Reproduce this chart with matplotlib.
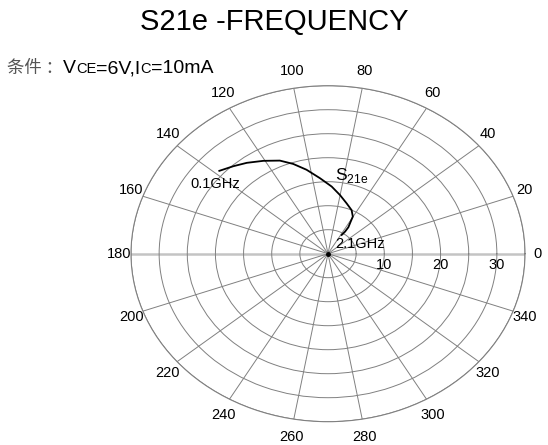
import numpy as np
import matplotlib
matplotlib.use("Agg")
import matplotlib.pyplot as plt
from matplotlib.offsetbox import TextArea, HPacker, AnnotationBbox

plt.rcParams['font.family'] = ['Liberation Sans', 'DejaVu Sans']
plt.rcParams['mathtext.fontset'] = 'custom'
plt.rcParams['mathtext.rm'] = 'Liberation Sans'

# S21e trace, 0.1 GHz -> 2.1 GHz (angle in degrees, magnitude)
s21_angle = [138.2, 132.7, 127.3, 120.7, 113.8, 108.3, 102.3, 95.2, 87.3,
             80.1, 72.5, 65.2, 60.3, 58.9, 56.7, 56.6, 58.1]
s21_mag = [25.9, 24.8, 23.8, 22.5, 21.2, 19.7, 17.9, 15.8, 14.0,
           12.4, 11.0, 10.0, 8.9, 7.8, 6.6, 5.5, 4.6]

angle_ticks = [0, 20, 40, 60, 80, 100, 120, 140, 160, 180,
               200, 220, 240, 260, 280, 300, 320, 340]
ring_ticks = [5, 10, 15, 20, 25, 30, 35]
ring_labels = [10, 20, 30]
r_max = 35

grid_col = '#808080'

fig = plt.figure(figsize=(5.48, 4.45), dpi=100)
ax = fig.add_axes([131 / 548, 23.3 / 445, 394 / 548, 336 / 445], projection='polar')
ax.set_aspect('auto')
ax.set_ylim(0, r_max)

ax.set_thetagrids(angle_ticks, labels=[''] * len(angle_ticks))
ax.set_rgrids(ring_ticks, labels=[''] * len(ring_ticks))
ax.grid(True, color=grid_col, lw=0.7)
for a, gl in zip(angle_ticks, ax.xaxis.get_gridlines()):
    if a in (0, 180):
        gl.set_color('#c4c4c4')
        gl.set_linewidth(1.8)
ax.spines['polar'].set_color(grid_col)
ax.spines['polar'].set_linewidth(0.8)
ax.tick_params(axis='x', which='major', length=0)
ax.set_xticks(np.deg2rad(np.arange(10, 360, 20)), minor=True)
ax.tick_params(axis='x', which='minor', length=3.5, direction='in',
               color=grid_col, width=0.7)

# angle labels around the outside
for a in angle_ticks:
    t = np.deg2rad(a)
    ax.annotate(str(a), xy=(t, r_max), xytext=(12 * np.cos(t), 18 * np.sin(t)),
                textcoords='offset pixels', ha='center', va='center', fontsize=10.5)

# magnitude labels under the 0-degree line
for r in ring_labels:
    ax.annotate(str(r), xy=(0, r), xytext=(0, -11), textcoords='offset pixels',
                ha='center', va='center', fontsize=10.5)

ax.plot(np.deg2rad(s21_angle), s21_mag, color='black', lw=1.3)
ax.plot(0, 0, 'o', color='black', ms=2.5)

ax.annotate('0.1GHz', xy=(np.deg2rad(s21_angle[0]), s21_mag[0]), xytext=(-29, -13),
            textcoords='offset pixels', ha='left', va='center', fontsize=10.5)
ax.annotate('2.1GHz', xy=(np.deg2rad(s21_angle[-1]), s21_mag[-1]), xytext=(-6, -9),
            textcoords='offset pixels', ha='left', va='center', fontsize=10.5)
ax.text(np.deg2rad(85.7), 16.4, r'S$_{\rm 21e}$', ha='left', va='center', fontsize=12.5)

fig.text(0.5, 1 - 22 / 445, 'S21e -FREQUENCY', ha='center', va='center', fontsize=21)

parts = [
    TextArea('条件 ：', textprops=dict(family=['Noto Sans CJK SC', 'DejaVu Sans'],
                                     fontsize=12.5, color='#555555')),
    TextArea('V', textprops=dict(fontsize=14)),
    TextArea('CE', textprops=dict(fontsize=10.5)),
    TextArea('=6V,I', textprops=dict(fontsize=14)),
    TextArea('C', textprops=dict(fontsize=10.5)),
    TextArea('=10mA', textprops=dict(fontsize=14)),
]
box = HPacker(children=parts, align='baseline', pad=0, sep=0)
ab = AnnotationBbox(box, (7 / 548, 1 - 68 / 445), xycoords='figure fraction',
                    box_alignment=(0, 0.5), frameon=False, pad=0)
fig.add_artist(ab)

fig.savefig('out.png', dpi=100)
